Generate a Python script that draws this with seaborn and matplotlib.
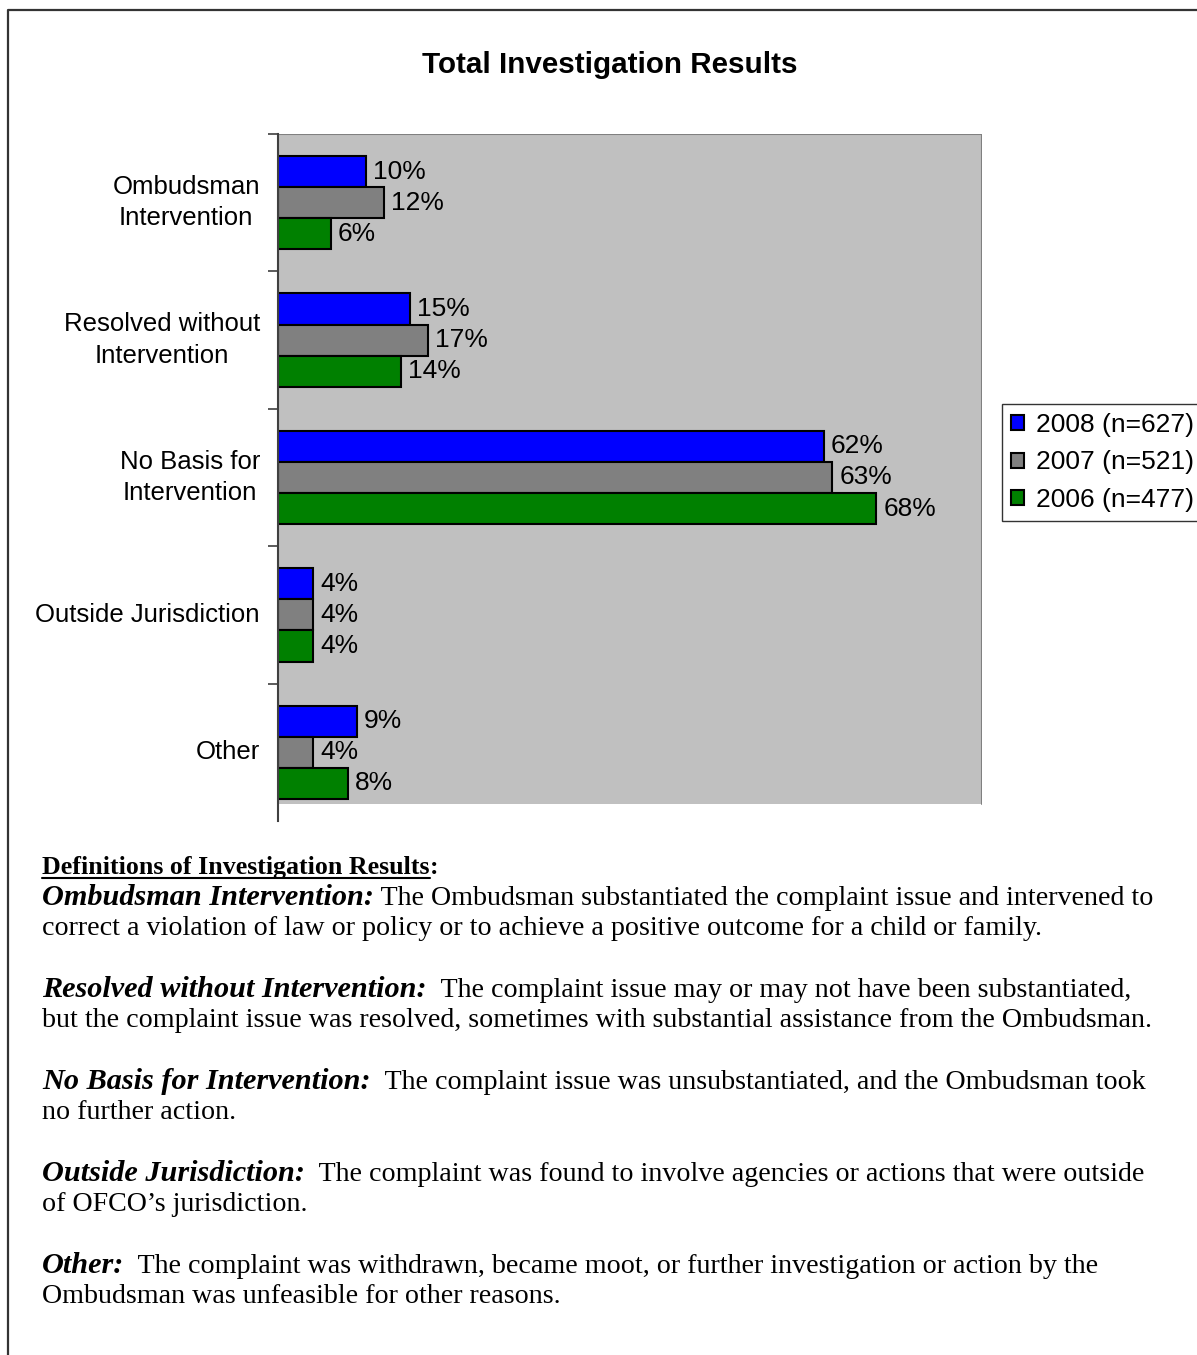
import matplotlib
matplotlib.use("Agg")
import matplotlib.pyplot as plt
from matplotlib.lines import Line2D
from matplotlib.patches import Rectangle
import numpy as np
import pandas as pd
import seaborn as sns

# chart data
categories = ["Ombudsman\nIntervention", "Resolved without\nIntervention",
              "No Basis for\nIntervention", "Outside Jurisdiction", "Other"]
years = ["2008 (n=627)", "2007 (n=521)", "2006 (n=477)"]
pct_2008 = [10, 15, 62, 4, 9]
pct_2007 = [12, 17, 63, 4, 4]
pct_2006 = [6, 14, 68, 4, 8]
bar_colors = ["#0000FF", "#808080", "#008000"]

# definitions text below the chart
definitions = [
    ("Ombudsman Intervention:", " The Ombudsman substantiated the complaint issue and intervened to",
     "correct a violation of law or policy or to achieve a positive outcome for a child or family."),
    ("Resolved without Intervention:", "  The complaint issue may or may not have been substantiated,",
     "but the complaint issue was resolved, sometimes with substantial assistance from the Ombudsman."),
    ("No Basis for Intervention:", "  The complaint issue was unsubstantiated, and the Ombudsman took",
     "no further action."),
    ("Outside Jurisdiction:", "  The complaint was found to involve agencies or actions that were outside",
     "of OFCO\u2019s jurisdiction."),
    ("Other:", "  The complaint was withdrawn, became moot, or further investigation or action by the",
     "Ombudsman was unfeasible for other reasons."),
]

sns.set_style("white")
plt.rcParams['font.family'] = ['Liberation Sans', 'DejaVu Sans']
plt.rcParams['text.color'] = 'black'
plt.rcParams['ytick.labelcolor'] = 'black'

W, H = 1197, 1355
fig = plt.figure(figsize=(W / 100, H / 100), dpi=100)


def fx(px):
    return px / W


def fy(py):
    return 1 - py / H


df = pd.DataFrame({
    "category": np.repeat(categories, 3),
    "year": years * len(categories),
    "pct": np.ravel(np.column_stack([pct_2008, pct_2007, pct_2006])),
})

ax = fig.add_axes([fx(278), fy(821), fx(982) - fx(278), fy(134) - fy(821)])
ax.set_facecolor("white")
# gray plot area (stops a bit above the axis end, like the original)
gray_bottom = 0.0247
ax.add_patch(Rectangle((0, gray_bottom), 1, 1 - gray_bottom, transform=ax.transAxes,
                       facecolor="#C0C0C0", edgecolor="none", zorder=0))
ax.add_line(Line2D([0, 1, 1], [1, 1, gray_bottom], transform=ax.transAxes,
                   color="#808080", lw=1.5, zorder=1))

sns.barplot(data=df, y="category", x="pct", hue="year", orient="h",
            palette=bar_colors, width=0.68, saturation=1,
            edgecolor="black", linewidth=1.5, ax=ax, zorder=2)

for cont in ax.containers:
    ax.bar_label(cont, fmt="%g%%", padding=5, fontsize=19, color="black")

ax.set_xlim(0, 80)
ax.set_ylim(len(categories) - 0.5, -0.5)
ax.set_xlabel("")
ax.set_ylabel("")
ax.set_xticks([])
for side in ["top", "right", "bottom"]:
    ax.spines[side].set_visible(False)
ax.spines["left"].set_color("#404040")
ax.spines["left"].set_linewidth(1.5)
ax.tick_params(axis="y", which="major", length=0, pad=13, labelsize=18.5)
ax.set_yticks(np.arange(-0.5, len(categories) - 1), minor=True)
ax.tick_params(axis="y", which="minor", length=7, width=1.2, color="#404040", left=True)
for lbl in ax.get_yticklabels():
    lbl.set_multialignment("center")
    lbl.set_linespacing(1.4)
    lbl.set_verticalalignment("center")

handles, labels = ax.get_legend_handles_labels()
ax.get_legend().remove()
fig.legend(handles, labels, loc="upper left", bbox_to_anchor=(fx(1002), fy(404)),
           fontsize=19, frameon=True, fancybox=False, edgecolor="black",
           handlelength=0.5, handleheight=0.5, handletextpad=0.45,
           labelspacing=0.5, borderpad=0.35, borderaxespad=0)
fig.legends[0].get_frame().set_linewidth(1.0)

fig.text(fx(610), fy(65), "Total Investigation Results", ha="center", va="center",
         fontsize=21.3, fontweight="bold")

# page border
fig.add_artist(Line2D([fx(8), fx(8), 1.0], [0, fy(10), fy(10)], color="#333333", lw=1.6))

# definitions block
serif = ['Liberation Serif', 'DejaVu Serif']
fs = 20.2
fs_term = 21.8
renderer = fig.canvas.get_renderer()
x0 = fx(42)

head = fig.text(x0, fy(874), "Definitions of Investigation Results", family=serif,
                fontsize=18.6, fontweight="bold", va="baseline")
bb = head.get_window_extent(renderer)
fig.text(bb.x1 / W, fy(874), ":", family=serif, fontsize=18.6, fontweight="bold", va="baseline")
fig.add_artist(Line2D([bb.x0 / W, bb.x1 / W], [fy(878), fy(878)], color="black", lw=1.5))

baseline = 905
for term, rest, second in definitions:
    t = fig.text(x0, fy(baseline), term, family=serif, fontsize=fs_term, fontweight="bold",
                 fontstyle="italic", va="baseline")
    bb = t.get_window_extent(renderer)
    fig.text(bb.x1 / W, fy(baseline), rest, family=serif, fontsize=fs, va="baseline")
    fig.text(x0, fy(baseline + 30), second, family=serif, fontsize=fs, va="baseline")
    baseline += 92

fig.savefig("out.png", dpi=100)
